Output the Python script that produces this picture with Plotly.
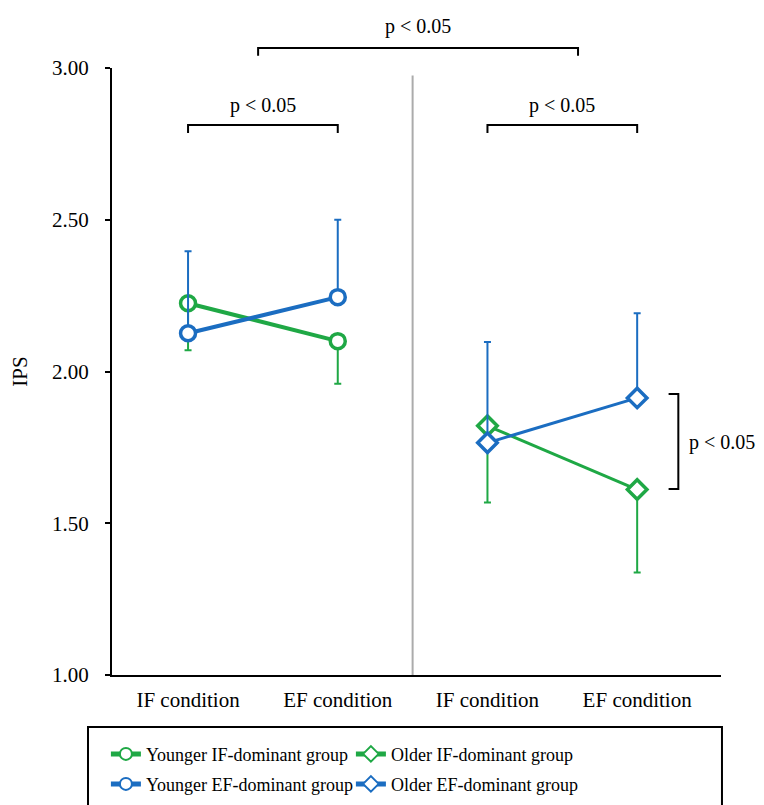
import plotly.graph_objects as go

# ---- data ----
categories = ["IF condition", "EF condition", "IF condition", "EF condition"]
cat_pos = [1, 2, 3, 4]

younger_if_mean = [2.225, 2.100]
younger_if_err_down = [0.155, 0.140]
younger_ef_mean = [2.126, 2.245]
younger_ef_err_up = [0.270, 0.255]

older_if_mean = [1.821, 1.611]
older_if_err_down = [0.253, 0.273]
older_ef_mean = [1.765, 1.913]
older_ef_err_up = [0.332, 0.279]

y_ticks = [1.0, 1.5, 2.0, 2.5, 3.0]

GREEN = "#1FA845"
BLUE = "#1B6DC1"
FONT = "Liberation Serif, Times New Roman, serif"

fig = go.Figure()

def add(name, xs, ys, up, down, color, symbol, lw, size, legend):
    fig.add_trace(go.Scatter(
        x=xs, y=ys, name=name, mode="lines+markers", legend=legend,
        line=dict(color=color, width=lw),
        marker=dict(symbol=symbol, size=size, color="white",
                    line=dict(color=color, width=3.5)),
        error_y=dict(type="data", symmetric=False, array=up, arrayminus=down,
                     color=color, thickness=2, width=3.5),
    ))

add("Younger IF-dominant group", cat_pos[:2], younger_if_mean,
    [0] * 2, younger_if_err_down, GREEN, "circle", 4, 15, "legend")
add("Older IF-dominant group", cat_pos[2:], older_if_mean,
    [0] * 2, older_if_err_down, GREEN, "diamond", 3, 15, "legend")
add("Younger EF-dominant group", cat_pos[:2], younger_ef_mean,
    younger_ef_err_up, [0] * 2, BLUE, "circle", 4, 15, "legend2")
add("Older EF-dominant group", cat_pos[2:], older_ef_mean,
    older_ef_err_up, [0] * 2, BLUE, "diamond", 3, 15, "legend2")

shapes = []
annots = []
blk = dict(color="black", width=2)
PFONT = dict(size=20, family=FONT, color="black")

# divider between age groups
shapes.append(dict(type="line", xref="x", yref="y", x0=2.5, x1=2.5, y0=1.0, y1=2.975,
                   line=dict(color="#ABABAB", width=2), layer="below"))

def hbracket(x0, x1, y, ytick, yref, ty):
    shapes.append(dict(type="path", xref="x", yref=yref,
                       path=f"M {x0},{ytick} L {x0},{y} L {x1},{y} L {x1},{ytick}",
                       line=blk))
    annots.append(dict(x=(x0 + x1) / 2, y=ty, xref="x", yref=yref, text="p < 0.05",
                       xanchor="center", yanchor="middle",
                       showarrow=False, font=PFONT))

hbracket(1.468, 3.605, 1.033, 1.020, "paper", 1.068)
hbracket(1.0, 2.0, 2.812, 2.786, "y", 2.875)
hbracket(3.0, 4.0, 2.812, 2.786, "y", 2.875)

# vertical bracket on right
shapes.append(dict(type="path", xref="x", yref="y",
                   path="M 4.21,1.926 L 4.275,1.926 L 4.275,1.613 L 4.21,1.613",
                   line=blk))
annots.append(dict(x=4.33, y=1.765, xref="x", yref="y", text="p < 0.05",
                   xanchor="left", yanchor="middle",
                   showarrow=False, font=PFONT))

# legend frame
shapes.append(dict(type="rect", xref="paper", yref="paper",
                   x0=-0.0394, x1=1.0016, y0=-0.0857, y1=-0.25,
                   line=dict(color="black", width=2), fillcolor="rgba(0,0,0,0)"))

leg_common = dict(orientation="h", x=-0.01, xanchor="left", yanchor="top",
                  entrywidth=200, entrywidthmode="pixels",
                  font=dict(size=18, family=FONT, color="black"),
                  itemsizing="constant", bgcolor="rgba(0,0,0,0)",
                  traceorder="normal")

fig.update_layout(
    width=756, height=797,
    margin=dict(l=104, r=43, t=60, b=130, autoexpand=False),
    paper_bgcolor="white", plot_bgcolor="white",
    font=dict(family=FONT, size=21, color="black"),
    shapes=shapes, annotations=annots,
    showlegend=True,
    legend=dict(y=-0.100, **leg_common),
    legend2=dict(y=-0.1494, **leg_common),
    xaxis=dict(range=[0.492, 4.56], tickmode="array", tickvals=cat_pos, ticktext=categories,
               showline=True, linecolor="black", linewidth=2, ticks="",
               showgrid=False, zeroline=False, ticklabelstandoff=5,
               tickfont=dict(size=21, family=FONT)),
    yaxis=dict(range=[1.0, 3.0], tickmode="array", tickvals=y_ticks, tickformat=".2f",
               showline=True, linecolor="black", linewidth=2, ticks="outside",
               ticklen=5, tickwidth=2, tickcolor="black",
               showgrid=False, zeroline=False, ticklabelstandoff=12,
               tickfont=dict(size=21, family=FONT),
               title=dict(text="IPS", standoff=22, font=dict(size=21, family=FONT))),
)

fig.write_html("out.html")
